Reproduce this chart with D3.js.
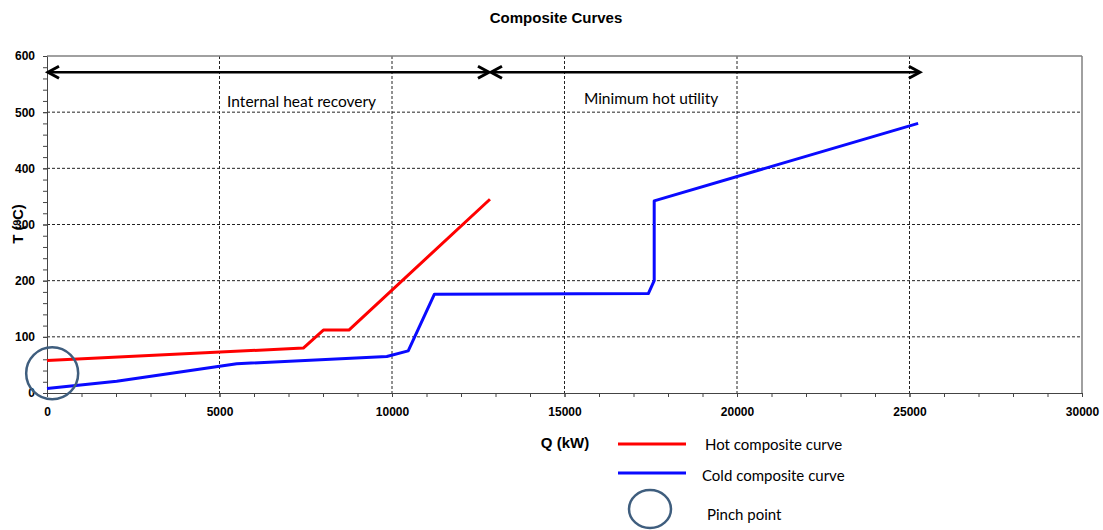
<!DOCTYPE html>
<html>
<head>
<meta charset="utf-8">
<script src="https://cdn.jsdelivr.net/npm/d3@7"></script>
<style>
  body { margin: 0; background: #fff; }
  .tick text { font-family: Arial, "Liberation Sans", sans-serif; font-weight: bold; font-size: 12px; fill: #000; }
</style>
</head>
<body>
<div id="chart"></div>
<script>
// hot composite curve
var hotQ = [0, 7430, 8010, 8750, 12840];
var hotT = [58, 80, 112, 112, 345];

// cold composite curve
var coldQ = [0, 2020, 5500, 9850, 10470, 11230, 17430, 17600, 17600, 25250];
var coldT = [8, 21, 52, 65, 75, 176, 177, 200, 342, 480];

// arrows at the top (internal heat recovery, minimum hot utility)
var arrowQ = [[0, 12840], [12840, 25330]];
var arrowT = 571;
var arrowLabels = ["Internal heat recovery", "Minimum hot utility"];
var labelQ = [7380, 17510];
var labelT = [518, 525];

var pinchQ = 150, pinchT = 35;

var xTicks = [0, 5000, 10000, 15000, 20000, 25000, 30000];
var yTicks = [0, 100, 200, 300, 400, 500, 600];

var W = 1103, H = 530;
var margin = {top: 56, right: 21, bottom: 137, left: 47},
    width = W - margin.left - margin.right,
    height = H - margin.top - margin.bottom;

var svg = d3.select("#chart")
  .append("svg")
    .attr("width", W)
    .attr("height", H);

var g = svg.append("g")
  .attr("transform", "translate(" + margin.left + "," + margin.top + ")");

var x = d3.scaleLinear().domain([0, 30000]).range([0, width]);
var y = d3.scaleLinear().domain([0, 600]).range([height, 0]);

// grid lines
g.append("g")
  .selectAll("line")
  .data(yTicks.slice(1, -1))
  .join("line")
    .attr("x1", 0).attr("x2", width)
    .attr("y1", function(d) { return y(d); })
    .attr("y2", function(d) { return y(d); })
    .attr("stroke", "#222")
    .attr("stroke-dasharray", "3,2");

g.append("g")
  .selectAll("line")
  .data(xTicks.slice(1, -1))
  .join("line")
    .attr("y1", 0).attr("y2", height)
    .attr("x1", function(d) { return x(d); })
    .attr("x2", function(d) { return x(d); })
    .attr("stroke", "#222")
    .attr("stroke-dasharray", "3,2");

// frame top and right
g.append("line").attr("x1", 0).attr("x2", width).attr("y1", 0).attr("y2", 0)
  .attr("stroke", "#808080").attr("stroke-width", 1.5);
g.append("line").attr("x1", width).attr("x2", width).attr("y1", 0).attr("y2", height)
  .attr("stroke", "#808080").attr("stroke-width", 1.5);

// minor ticks
g.append("g")
  .attr("transform", "translate(0," + height + ")")
  .call(d3.axisBottom(x).ticks(30).tickSize(4).tickFormat(""))
  .call(function(a) { a.select(".domain").remove(); a.selectAll("line").attr("stroke", "#444"); });
g.append("g")
  .call(d3.axisLeft(y).ticks(30).tickSize(4).tickFormat(""))
  .call(function(a) { a.select(".domain").remove(); a.selectAll("line").attr("stroke", "#444"); });

// main axes
g.append("g")
  .attr("transform", "translate(0," + height + ")")
  .call(d3.axisBottom(x).tickValues(xTicks).tickSize(4).tickSizeOuter(0).tickPadding(10).tickFormat(d3.format("d")))
  .call(function(a) { a.select(".domain").attr("stroke", "#444"); a.selectAll("line").attr("stroke", "#444"); });

g.append("g")
  .call(d3.axisLeft(y).tickValues(yTicks).tickSize(4).tickSizeOuter(0).tickPadding(8))
  .call(function(a) { a.select(".domain").attr("stroke", "#444"); a.selectAll("line").attr("stroke", "#444"); });

// curves
var line = d3.line()
  .x(function(d) { return x(d[0]); })
  .y(function(d) { return y(d[1]); });

g.append("path")
  .datum(hotQ.map(function(q, i) { return [q, hotT[i]]; }))
  .attr("fill", "none")
  .attr("stroke", "#ff0000")
  .attr("stroke-width", 3)
  .attr("stroke-linejoin", "round")
  .attr("d", line);

g.append("path")
  .datum(coldQ.map(function(q, i) { return [q, coldT[i]]; }))
  .attr("fill", "none")
  .attr("stroke", "#0a0aff")
  .attr("stroke-width", 3)
  .attr("stroke-linejoin", "round")
  .attr("d", line);

// arrows
arrowQ.forEach(function(a) {
  var x0 = x(a[0]), x1 = x(a[1]), yy = y(arrowT);
  g.append("line")
    .attr("x1", x0 + 1).attr("x2", x1 - 1)
    .attr("y1", yy).attr("y2", yy)
    .attr("stroke", "#000").attr("stroke-width", 2.5);
  g.append("path")
    .attr("d", "M" + (x0 + 12) + "," + (yy - 6) + "L" + (x0 + 1) + "," + yy + "L" + (x0 + 12) + "," + (yy + 6))
    .attr("fill", "none").attr("stroke", "#000").attr("stroke-width", 3);
  g.append("path")
    .attr("d", "M" + (x1 - 12) + "," + (yy - 6) + "L" + (x1 - 1) + "," + yy + "L" + (x1 - 12) + "," + (yy + 6))
    .attr("fill", "none").attr("stroke", "#000").attr("stroke-width", 3);
});

g.selectAll(".alabel")
  .data(arrowLabels)
  .join("text")
    .attr("class", "alabel")
    .attr("x", function(d, i) { return x(labelQ[i]); })
    .attr("y", function(d, i) { return y(labelT[i]); })
    .attr("dy", "0.35em")
    .attr("text-anchor", "middle")
    .style("font-family", "Lato, 'Open Sans', sans-serif")
    .style("font-size", "15.5px")
    .text(function(d) { return d; });

// pinch circle
g.append("circle")
  .attr("cx", x(pinchQ))
  .attr("cy", y(pinchT))
  .attr("r", 26)
  .attr("fill", "none")
  .attr("stroke", "#3f5e7e")
  .attr("stroke-width", 2.5);

// titles
svg.append("text")
  .attr("x", 556).attr("y", 18).attr("dy", "0.35em")
  .attr("text-anchor", "middle")
  .style("font-family", "Arial, 'Liberation Sans', sans-serif")
  .style("font-weight", "bold")
  .style("font-size", "15px")
  .text("Composite Curves");

svg.append("text")
  .attr("transform", "translate(18,224) rotate(-90)")
  .attr("dy", "0.35em")
  .attr("text-anchor", "middle")
  .style("font-family", "Arial, 'Liberation Sans', sans-serif")
  .style("font-weight", "bold")
  .style("font-size", "15px")
  .text("T (ºC)");

svg.append("text")
  .attr("x", 565).attr("y", 443).attr("dy", "0.35em")
  .attr("text-anchor", "middle")
  .style("font-family", "Arial, 'Liberation Sans', sans-serif")
  .style("font-weight", "bold")
  .style("font-size", "15px")
  .text("Q (kW)");

// legend
var legend = svg.append("g");
legend.append("line").attr("x1", 618).attr("x2", 686).attr("y1", 444).attr("y2", 444)
  .attr("stroke", "#ff0000").attr("stroke-width", 3);
legend.append("line").attr("x1", 618).attr("x2", 686).attr("y1", 473).attr("y2", 473)
  .attr("stroke", "#0a0aff").attr("stroke-width", 3);
legend.append("ellipse").attr("cx", 650).attr("cy", 509).attr("rx", 21).attr("ry", 19)
  .attr("fill", "none").attr("stroke", "#3f5e7e").attr("stroke-width", 2.5);

var legText = [["Hot composite curve", 705, 445], ["Cold composite curve", 702, 476], ["Pinch point", 707, 515]];
legend.selectAll("text")
  .data(legText)
  .join("text")
    .attr("x", function(d) { return d[1]; })
    .attr("y", function(d) { return d[2]; })
    .attr("dy", "0.35em")
    .style("font-family", "Lato, 'Open Sans', sans-serif")
    .style("font-size", "15px")
    .text(function(d) { return d[0]; });
</script>
</body>
</html>
